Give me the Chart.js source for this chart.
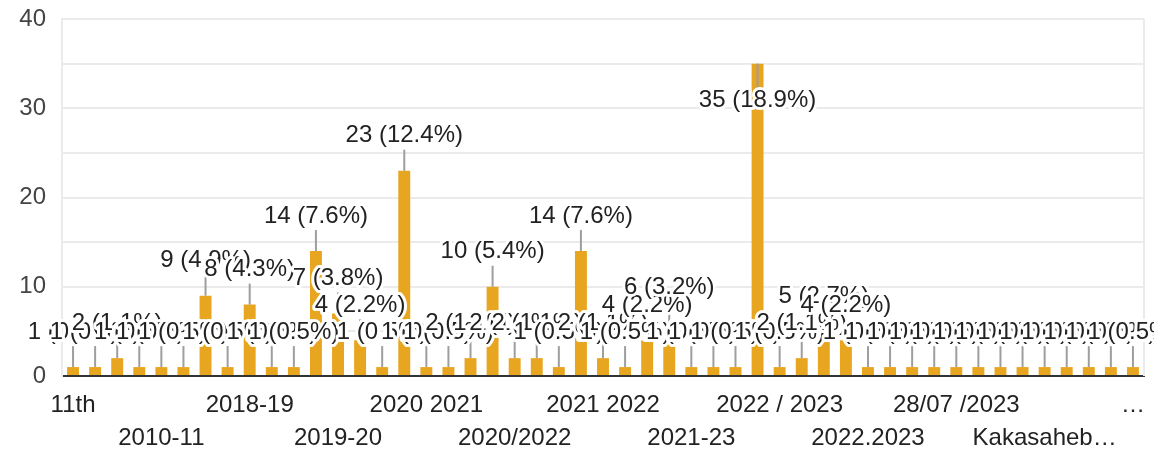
<!DOCTYPE html>
<html>
<head>
<meta charset="utf-8">
<script src="https://cdn.jsdelivr.net/npm/chart.js@4/dist/chart.umd.min.js"></script>
<style>
  html, body { margin: 0; padding: 0; background: #ffffff; }
  #wrap { width: 1154px; height: 449px; }
</style>
</head>
<body>
<div id="wrap"><canvas id="c" width="1154" height="449" style="width:1154px;height:449px"></canvas></div>
<script>
// ---- data ----
const categories = [
  "11th", "12th", "2009-10", "2010", "2010-11", "2017-18", "2018", "2018 2019",
  "2018-19", "2018-2019", "2018/19", "2019", "2019-20", "2019-2020", "2019/20", "2020",
  "2020 2021", "2020 21", "2020-2021", "2020-21", "2020/2022", "2020/21", "2020/22", "2021",
  "2021 2022", "2021,2022", "2021-2022", "2021-22", "2021-23", "2021/2022", "2021/22", "2022",
  "2022 / 2023", "2022 2023", "2022-2023", "2022-23", "2022.2023", "2022/23", "2023", "2023-24",
  "28/07 /2023", "B.A.", "B.Com", "BSc", "Kakasaheb Mhaske College", "M.A.", "NA", "Third year",
  "Yashwantrao Chavan College"
];
const counts = [
  1, 1, 2, 1, 1, 1, 9, 1,
  8, 1, 1, 14, 7, 4, 1, 23,
  1, 1, 2, 10, 2, 2, 1, 14,
  2, 1, 4, 6, 1, 1, 1, 35,
  1, 2, 5, 4, 1, 1, 1, 1,
  1, 1, 1, 1, 1, 1, 1, 1,
  1
];
const yTickValues = [0, 10, 20, 30, 40];
const labelEvery = 4;

const total = counts.reduce((a, b) => a + b, 0);
const FONT_FAMILY = 'Arial, "Liberation Sans", sans-serif';
const FONT_SIZE = 24;

const mctx = document.createElement('canvas').getContext('2d');
mctx.font = FONT_SIZE + 'px ' + FONT_FAMILY;
function shorten(s) {
  const maxW = 150;
  if (mctx.measureText(s).width <= maxW) return s;
  const words = s.split(' ');
  for (let k = words.length - 1; k >= 1; k--) {
    const t = words.slice(0, k).join(' ') + '\u2026';
    if (mctx.measureText(t).width <= maxW) return t;
  }
  return '\u2026';
}

const frame = {
  id: 'frame',
  beforeDatasetsDraw(chart) {
    const { ctx, chartArea: a } = chart;
    ctx.save();
    ctx.strokeStyle = '#ebebeb';
    ctx.lineWidth = 2;
    ctx.beginPath();
    ctx.moveTo(a.right, a.top);
    ctx.lineTo(a.right, a.bottom);
    ctx.stroke();
    ctx.restore();
  }
};

const barLabels = {
  id: 'barLabels',
  afterDatasetsDraw(chart) {
    const { ctx, chartArea: a } = chart;
    const meta = chart.getDatasetMeta(0);
    const items = meta.data.map((bar, i) => {
      const top = bar.y;
      const flip = (top - 35 - 13) < a.top;
      return {
        x: bar.x,
        top,
        lineEnd: flip ? top + 24 : top - 21,
        ly: flip ? top + 37 : top - 35,
        text: counts[i] + ' (' + (counts[i] / total * 100).toFixed(1) + '%)'
      };
    });
    ctx.save();
    ctx.strokeStyle = '#9e9e9e';
    ctx.lineWidth = 2;
    items.forEach(it => {
      ctx.beginPath();
      ctx.moveTo(it.x, it.top);
      ctx.lineTo(it.x, it.lineEnd);
      ctx.stroke();
    });
    ctx.font = FONT_SIZE + 'px ' + FONT_FAMILY;
    ctx.textAlign = 'center';
    ctx.textBaseline = 'middle';
    ctx.lineJoin = 'round';
    items.forEach(it => {
      ctx.strokeStyle = '#ffffff';
      ctx.lineWidth = 6;
      ctx.strokeText(it.text, it.x, it.ly);
      ctx.fillStyle = '#222222';
      ctx.fillText(it.text, it.x, it.ly);
    });
    ctx.restore();
  }
};

new Chart(document.getElementById('c'), {
  type: 'bar',
  data: {
    labels: categories,
    datasets: [{
      data: counts,
      backgroundColor: '#E8A51F',
      borderWidth: 0,
      barPercentage: 0.54,
      categoryPercentage: 1.0
    }]
  },
  options: {
    responsive: false,
    animation: false,
    devicePixelRatio: 1,
    layout: { padding: { top: 19, right: 10, left: 0, bottom: 0 } },
    plugins: { legend: { display: false }, tooltip: { enabled: false } },
    scales: {
      x: {
        grid: { display: false, drawTicks: false },
        border: { display: true, color: '#333333', width: 2 },
        ticks: {
          autoSkip: false,
          maxRotation: 0,
          minRotation: 0,
          padding: 13,
          color: '#222222',
          font: { family: FONT_FAMILY, size: FONT_SIZE, lineHeight: 1.375 },
          callback: function (value, index) {
            if (index % labelEvery !== 0) return '';
            const t = shorten(categories[index]);
            return (index / labelEvery) % 2 === 0 ? [t] : ['', t];
          }
        },
        afterFit(scale) {
          scale.height = 73;
          scale.paddingLeft = 0;
          scale.paddingRight = 0;
        }
      },
      y: {
        min: yTickValues[0],
        max: yTickValues[yTickValues.length - 1],
        grid: { color: '#ebebeb', lineWidth: 2, drawTicks: false },
        border: { display: true, color: '#ebebeb', width: 2 },
        ticks: {
          stepSize: 5,
          padding: 16,
          color: '#444444',
          font: { family: FONT_FAMILY, size: FONT_SIZE, lineHeight: 0.2 },
          callback: (v) => (yTickValues.includes(v) ? String(v) : '')
        },
        afterFit(scale) { scale.width = 62; }
      }
    }
  },
  plugins: [frame, barLabels]
});
</script>
</body>
</html>
